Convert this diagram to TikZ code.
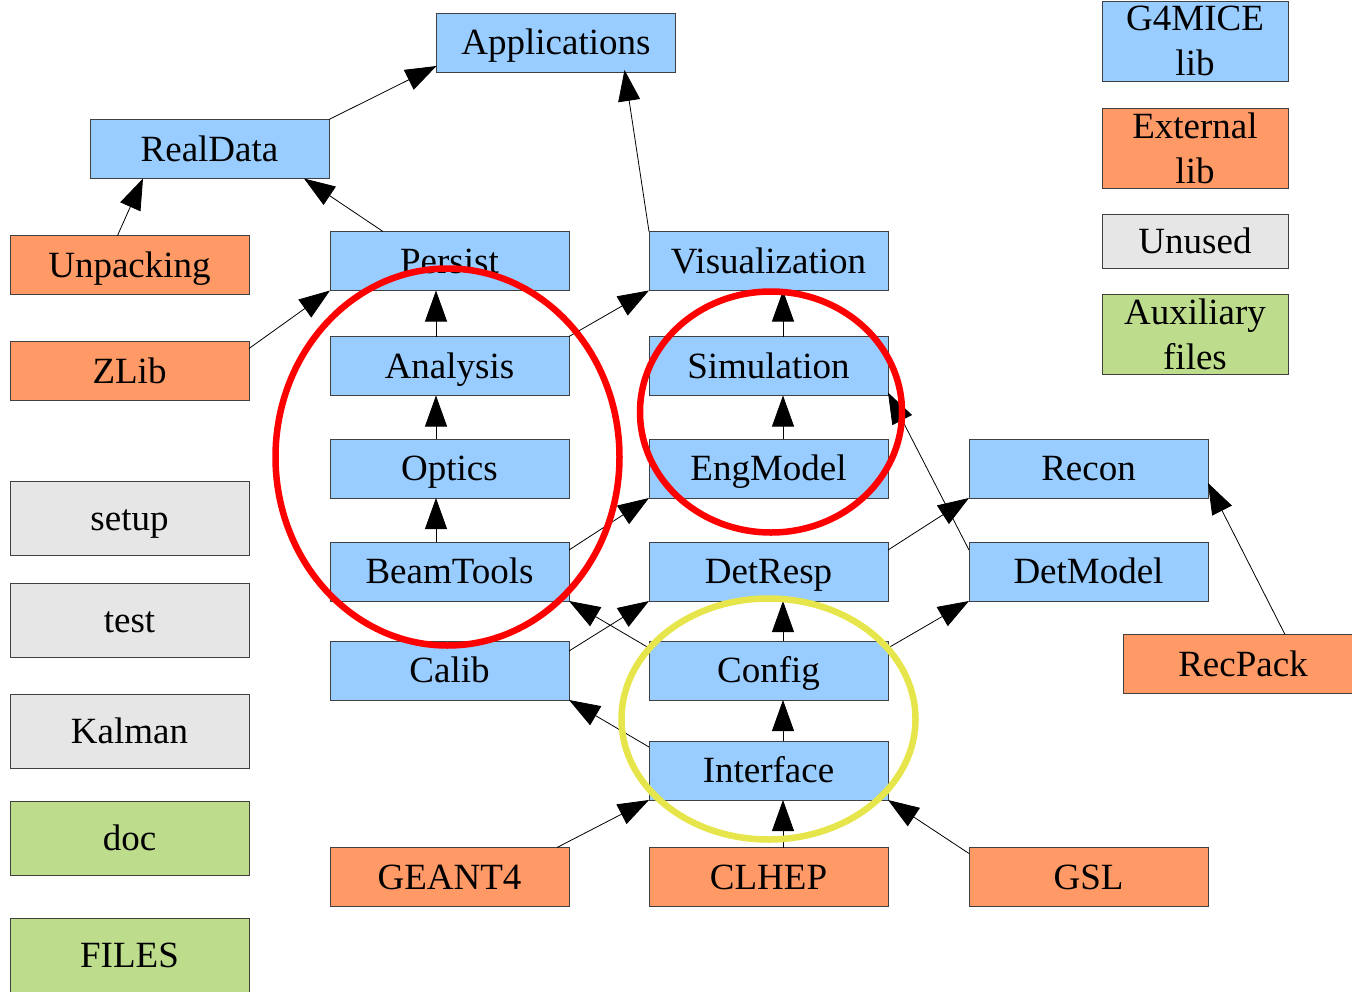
\documentclass[tikz,border=0pt]{standalone}
\usepackage{fontspec}
\setmainfont{Liberation Serif}
\usetikzlibrary{arrows.meta}

\definecolor{g4blue}{RGB}{153,204,255}
\definecolor{extorange}{RGB}{255,153,102}
\definecolor{unusedgray}{RGB}{230,230,230}
\definecolor{auxgreen}{RGB}{189,221,141}
\definecolor{ringred}{RGB}{255,0,0}
\definecolor{ringyellow}{RGB}{230,230,76}

\tikzset{
  box/.style={draw=black!75, line width=0.9pt, inner sep=0pt, outer sep=0pt,
    minimum width=239pt, minimum height=59pt, font=\fontsize{37}{45}\selectfont},
  oneline/.style={text height=24.5pt, text depth=0pt},
  g4/.style={box, oneline, fill=g4blue},
  ext/.style={box, oneline, fill=extorange},
  unusedbox/.style={box, oneline, fill=unusedgray, minimum height=74pt},
  auxbox/.style={box, oneline, fill=auxgreen, minimum height=74pt},
  legendbox/.style={box, align=center, minimum width=186pt, minimum height=80pt},
  dep/.style={-{Triangle[length=31pt,width=22pt]}, line width=0.8pt, black},
  ring/.style={line width=6.5pt}
}

\begin{document}
\begin{tikzpicture}[x=1pt,y=-1pt]
\useasboundingbox (0,0) rectangle (1352,991);

% G4MICE libraries
\node[g4] (app)       at (556,42.5)    {Applications};
\node[g4] (realdata)  at (209.5,149)   {RealData};
\node[g4] (persist)   at (449.5,261)   {Persist};
\node[g4] (vis)       at (768.5,261)   {Visualization};
\node[g4] (analysis)  at (449.5,366)   {Analysis};
\node[g4] (sim)       at (768.5,366)   {Simulation};
\node[g4] (optics)    at (449.5,468.5) {Optics};
\node[g4] (engmodel)  at (768.5,468.5) {EngModel};
\node[g4] (recon)     at (1088.5,468.5){Recon};
\node[g4] (beamtools) at (449.5,571.5) {BeamTools};
\node[g4] (detresp)   at (768.5,571.5) {DetResp};
\node[g4] (detmodel)  at (1088.5,571.5){DetModel};
\node[g4] (calib)     at (449.5,670.5) {Calib};
\node[g4] (config)    at (768.5,670.5) {Config};
\node[g4] (interface) at (768.5,770.5) {Interface};

% external libraries
\node[ext] (unpacking) at (129.5,265) {Unpacking};
\node[ext] (zlib)      at (129.5,371) {ZLib};
\node[ext, minimum width=240pt] (recpack) at (1243,664) {RecPack};
\node[ext] (geant4)    at (449.5,877) {GEANT4};
\node[ext] (clhep)     at (768.5,877) {CLHEP};
\node[ext] (gsl)       at (1088.5,877) {GSL};

% unused and auxiliary directories
\node[unusedbox] (setup)  at (129.5,518) {setup};
\node[unusedbox] (test)   at (129.5,620) {test};
\node[unusedbox] (kalman) at (129.5,731) {Kalman};
\node[auxbox] (doc)       at (129.5,838) {doc};
\node[auxbox] (files)     at (129.5,955) {FILES};

% key
\node[legendbox, fill=g4blue]    (keyg4)  at (1195,41)  {G4MICE\\lib};
\node[legendbox, fill=extorange] (keyext) at (1195,148) {External\\lib};
\node[box, oneline, fill=unusedgray, minimum width=186pt, minimum height=54pt] (keyunused) at (1195,241) {Unused};
\node[legendbox, fill=auxgreen]  (keyaux) at (1195,334) {Auxiliary\\files};

% dependencies
\draw[dep] (realdata.north east) -- ([yshift=6pt]app.south west);
\draw[dep] (vis.north west) -- ([xshift=-51pt,yshift=2pt]app.south east);
\draw[dep] ([xshift=53pt]persist.north west) -- ([xshift=-25pt]realdata.south east);
\draw[dep] ([xshift=-12pt]unpacking.north) -- ([xshift=53pt]realdata.south west);
\draw[dep] ([yshift=-7pt]zlib.north east) -- (persist.south west);
\draw[dep] ([xshift=-13.5pt]analysis.north) -- ([xshift=-13.5pt]persist.south);
\draw[dep] (analysis.north east) -- (vis.south west);
\draw[dep] ([xshift=-13.5pt]optics.north) -- ([xshift=-13.5pt]analysis.south);
\draw[dep] ([xshift=-13.5pt]beamtools.north) -- ([xshift=-13.5pt]optics.south);
\draw[dep] ([yshift=-8pt]beamtools.north east) -- (engmodel.south west);
\draw[dep] ([xshift=14.5pt]engmodel.north) -- ([xshift=14.5pt]sim.south);
\draw[dep] ([xshift=14.5pt]sim.north) -- ([xshift=14.5pt]vis.south);
\draw[dep] ([yshift=-8pt]detmodel.north west) -- ([yshift=3pt]sim.south east);
\draw[dep] ([yshift=-8pt]detresp.north east) -- (recon.south west);
\draw[dep] ([xshift=14.5pt]config.north) -- ([xshift=14.5pt]detresp.south);
\draw[dep] ([yshift=-7pt]config.north west) -- (beamtools.south east);
\draw[dep] ([yshift=-10pt]calib.north east) -- (detresp.south west);
\draw[dep] ([yshift=-7pt]config.north east) -- (detmodel.south west);
\draw[dep] ([xshift=14.5pt]interface.north) -- ([xshift=14.5pt]config.south);
\draw[dep] ([yshift=-6pt]interface.north west) -- (calib.south east);
\draw[dep] ([xshift=14.5pt]clhep.north) -- ([xshift=14.5pt]interface.south);
\draw[dep] ([xshift=-12pt]geant4.north east) -- (interface.south west);
\draw[dep] ([yshift=-6pt]gsl.north west) -- (interface.south east);
\draw[dep] ([xshift=162pt]recpack.north west) -- ([yshift=15pt]recon.south east);

% highlighted groups
\draw[ring, ringred]    (447.5,457) ellipse [x radius=172, y radius=188.5];
\draw[ring, ringred]    (771,412)   ellipse [x radius=131, y radius=120.5];
\draw[ring, ringyellow] (768.5,719) ellipse [x radius=147, y radius=120.5];
\end{tikzpicture}
\end{document}
